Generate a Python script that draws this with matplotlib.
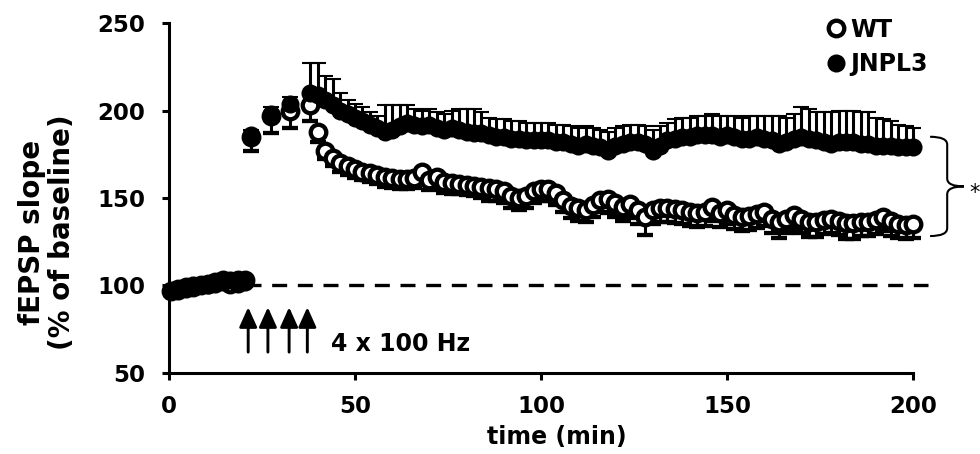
import numpy as np
import matplotlib.pyplot as plt
from matplotlib.path import Path
from matplotlib.patches import PathPatch

plt.rcParams['font.family'] = ['DejaVu Sans']
plt.rcParams['font.weight'] = 'bold'

# time points (min)
t_base = np.arange(0.5, 21, 2)          # baseline
t_tet = [22, 27.5, 32.5, 38]            # between tetani
t_post = np.arange(40, 201, 2)          # after induction
t_all = np.concatenate([t_base, t_tet, t_post])

# WT values (% of baseline), lower SEM shown
wt_base = [97, 98, 99, 99, 100, 101, 102, 103, 101, 103, 103]
wt_tet = [185, 197, 200, 203]
wt_post = [188, 177, 173, 170, 168, 166.5, 165, 164, 163, 162,
           161.5, 161, 161, 161.5, 165, 160.5, 162, 159, 158.5, 158,
           157.5, 157, 156, 155.5, 155, 154, 151, 150, 151, 154,
           155, 155, 153, 149, 145.5, 144, 143, 146, 149, 149.5,
           147, 145, 146.5, 143, 139, 143, 144, 144, 143.5, 143,
           142, 141.5, 142, 145, 141.5, 143, 140, 139, 139.5, 141,
           142, 138, 136, 138, 140, 138, 136.5, 136.5, 137.5, 138,
           137, 135.5, 135.5, 136, 136.5, 137.5, 139, 137, 135, 134.5,
           135]
wt_err_base = [2, 2, 2, 2, 2, 2, 2, 2, 2, 2, 2]
wt_err_tet = [8, 10, 10, 9]
wt_err_post = [6, 5, 5, 5, 5, 5, 5, 5, 5, 6,
               6, 6, 6, 6, 6, 6, 7, 6, 6, 6,
               6, 6, 6, 7, 7, 7, 7, 7, 7, 7,
               7, 7, 7, 7, 7, 7, 7, 7, 7, 8,
               8, 8, 8, 8, 10, 8, 8, 8, 8, 8,
               8, 8, 8, 8, 8, 8, 8, 8, 8, 8,
               8, 8, 9, 8, 8, 8, 9, 9, 8, 8,
               8, 9, 9, 8, 8, 8, 8, 9, 8, 8,
               8]

# JNPL3 values (% of baseline), upper SEM shown
jn_base = [97, 97, 98, 100, 100, 100, 101, 102, 103, 101, 102]
jn_tet = [186, 198, 204, 210]
jn_post = [209, 206, 203, 200, 198, 196, 194, 192, 190, 188,
           189, 191, 193, 192, 191, 192, 190, 189, 190, 189,
           188, 187, 187, 186, 185, 185, 184, 184, 183, 183,
           183, 183, 182, 182, 181, 180, 181, 180, 179, 177,
           180, 181, 182, 182, 181, 177, 180, 183, 184, 185,
           185, 186, 186, 186, 185, 186, 185, 184, 184, 185,
           184, 183, 181, 182, 184, 185, 184, 183, 182, 181,
           182, 182, 182, 181, 181, 180, 180, 180, 179, 179,
           179]
jn_err_base = [2, 2, 2, 2, 2, 2, 2, 2, 2, 2, 2]
jn_err_tet = [3, 4, 4, 17]
jn_err_post = [18, 14, 15, 10, 8, 8, 8, 7, 7, 15,
               14, 12, 10, 9, 9, 9, 9, 9, 10, 12,
               13, 14, 12, 10, 10, 10, 10, 10, 10, 10,
               10, 10, 10, 10, 10, 10, 10, 10, 10, 11,
               10, 10, 10, 10, 10, 12, 11, 10, 11, 11,
               11, 11, 11, 12, 12, 11, 12, 12, 13, 12,
               13, 14, 16, 14, 14, 17, 17, 16, 17, 18,
               18, 18, 18, 18, 18, 16, 15, 14, 13, 12,
               11]

wt = np.array(wt_base + wt_tet + wt_post)
wt_err = np.array(wt_err_base + wt_err_tet + wt_err_post)
jn = np.array(jn_base + jn_tet + jn_post)
jn_err = np.array(jn_err_base + jn_err_tet + jn_err_post)

tetanus_times = [21.3, 26.6, 32.3, 37.2]
baseline_level = 100

fig = plt.figure(figsize=(9.8, 4.54), dpi=100)
ax = fig.add_axes([0.1724, 0.179, 0.7592, 0.770])

zero = np.zeros_like(wt_err)
eb_wt = ax.errorbar(t_all, wt, yerr=[wt_err, zero], fmt='o', color='black',
                    mfc='white', mec='black', ms=11.2, mew=3.1,
                    elinewidth=2.2, capsize=5.5, capthick=2.3, clip_on=False,
                    zorder=3)
eb_jn = ax.errorbar(t_all, jn, yerr=[zero, jn_err], fmt='o', color='black',
                    mfc='black', mec='black', ms=11.5, mew=1.5,
                    elinewidth=2.2, capsize=5.5, capthick=2.3, clip_on=False,
                    zorder=4)

# baseline reference
ax.plot([0, 204], [baseline_level, baseline_level], color='black', lw=2.4,
        dashes=(4.5, 3.2), clip_on=False, zorder=1)

# tetanus arrows
for t in tetanus_times:
    ax.annotate('', xy=(t, 87.5), xytext=(t, 61.8),
                arrowprops=dict(arrowstyle='-|>,head_length=1.0,head_width=0.45',
                                lw=2.1, color='black', shrinkA=0, shrinkB=0,
                                mutation_scale=12))
ax.text(43.5, 66.5, '4 x 100 Hz', fontsize=17, fontweight='bold',
        ha='left', va='center')

# significance brace
y_top, y_bot = 185, 128.2
x_end, x_mid, x_tip = 204.6, 209.2, 213.7
y_m = (y_top + y_bot) / 2
r = 4.5
verts = [(x_end, y_top), (x_mid, y_top), (x_mid, y_top - r),
         (x_mid, y_m + r), (x_mid, y_m), (x_tip, y_m),
         (x_mid, y_m), (x_mid, y_m - r),
         (x_mid, y_bot + r), (x_mid, y_bot), (x_end, y_bot)]
codes = [Path.MOVETO, Path.CURVE3, Path.CURVE3,
         Path.LINETO, Path.CURVE3, Path.CURVE3,
         Path.CURVE3, Path.CURVE3,
         Path.LINETO, Path.CURVE3, Path.CURVE3]
ax.add_patch(PathPatch(Path(verts, codes), fill=False, lw=1.5,
                       edgecolor='black', clip_on=False))
ax.text(216.6, 153, '*', fontsize=15, fontweight='normal',
        ha='center', va='center', clip_on=False)

ax.set_xlim(0, 200)
ax.set_ylim(50, 250)
ax.set_xticks([0, 50, 100, 150, 200])
ax.set_yticks([50, 100, 150, 200, 250])
for s in ['top', 'right']:
    ax.spines[s].set_visible(False)
for s in ['left', 'bottom']:
    ax.spines[s].set_linewidth(2.2)
ax.tick_params(direction='out', length=5, width=2.2, labelsize=16.5)
ax.tick_params(axis='y', pad=12)
ax.tick_params(axis='x', pad=11)
for lab in ax.get_xticklabels() + ax.get_yticklabels():
    lab.set_fontweight('bold')

fig.text(47 / 980, 1 - 232 / 454, 'fEPSP slope\n(% of baseline)', rotation=90,
         fontsize=20, fontweight='bold', ha='center', va='center',
         multialignment='center', linespacing=1.05)
fig.text(557 / 980, 1 - 437 / 454, 'time (min)', fontsize=17,
         fontweight='bold', ha='center', va='center')

ax.legend([eb_wt[0], eb_jn[0]], ['WT', 'JNPL3'], frameon=False,
          loc='upper left', bbox_to_anchor=(0.885, 1.016), borderaxespad=0,
          borderpad=0, handlelength=0.75, handletextpad=0.2, labelspacing=0.45,
          numpoints=1, prop={'size': 17, 'weight': 'bold'})

fig.savefig('out.png', dpi=100)
